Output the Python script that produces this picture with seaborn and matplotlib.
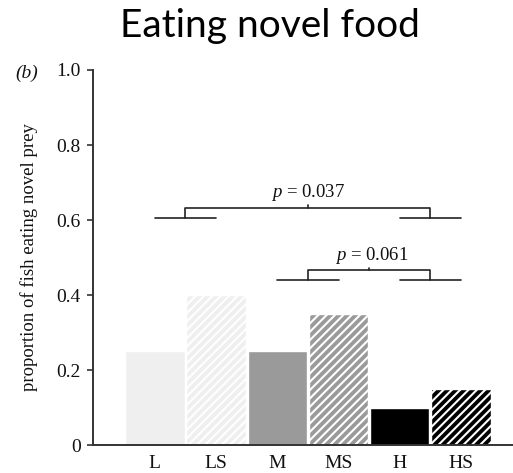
import matplotlib
matplotlib.use("Agg")
import matplotlib.pyplot as plt
import seaborn as sns
import pandas as pd

# ---- data ----
categories = ["L", "LS", "M", "MS", "H", "HS"]
proportions = [0.25, 0.40, 0.25, 0.35, 0.10, 0.15]
bar_colors = ["#efefef", "#efefef", "#9a9a9a", "#9a9a9a", "#000000", "#000000"]
hatched = [False, True, False, True, False, True]
y_ticks = [0, 0.2, 0.4, 0.6, 0.8, 1.0]
y_tick_labels = ["0", "0.2", "0.4", "0.6", "0.8", "1.0"]
p_labels = ["0.037", "0.061"]

sns.set_theme(style="white")
plt.rcParams["font.family"] = ["Liberation Serif", "DejaVu Serif"]
plt.rcParams["mathtext.fontset"] = "custom"
plt.rcParams["mathtext.it"] = "Liberation Serif:italic"
plt.rcParams["mathtext.rm"] = "Liberation Serif"
plt.rcParams["hatch.linewidth"] = 1.5
plt.rcParams["text.color"] = "#111111"
plt.rcParams["xtick.color"] = "#111111"
plt.rcParams["ytick.color"] = "#111111"
plt.rcParams["axes.labelcolor"] = "#111111"

df = pd.DataFrame({"group": categories, "prop": proportions})

fig = plt.figure(figsize=(5.13, 4.73), dpi=100)
ax = fig.add_axes([93 / 513, 28 / 473, 420 / 513, 375 / 473])

sns.barplot(data=df, x="group", y="prop", hue="group", palette=bar_colors,
            legend=False, width=0.97, edgecolor="white", linewidth=1.0,
            saturation=1, ax=ax)
for patch, h in zip(ax.patches, hatched):
    if h:
        patch.set_hatch("////")

ax.set_xlim(-1.01, 5.85)
ax.set_ylim(0, 1.0)
ax.set_yticks(y_ticks)
ax.set_yticklabels(y_tick_labels, fontsize=14)
ax.tick_params(axis="y", direction="out", length=4, width=1.2, color="#333333", pad=5, left=True)
ax.tick_params(axis="x", length=0, pad=7, labelsize=14)
ax.set_xlabel("")
ax.set_ylabel("proportion of fish eating novel prey", fontsize=13.5)
ax.yaxis.set_label_coords(-(93 - 38) / 420, 0.5)
for s in ["top", "right"]:
    ax.spines[s].set_visible(False)
for s in ["left", "bottom"]:
    ax.spines[s].set_color("#333333")
    ax.spines[s].set_linewidth(1.4)

lc = "#222222"
lw = 1.2

def bracket(x1, x2, x3, x4, ylow, ytop, label, tx, ty):
    ax.plot([x1, x2], [ylow, ylow], color=lc, lw=lw, clip_on=False)
    ax.plot([x3, x4], [ylow, ylow], color=lc, lw=lw, clip_on=False)
    m1 = (x1 + x2) / 2
    m2 = (x3 + x4) / 2
    ax.plot([m1, m1, m2, m2], [ylow, ytop, ytop, ylow], color=lc, lw=lw, clip_on=False)
    mc = (m1 + m2) / 2
    ax.plot([mc, mc], [ytop, ytop + 0.006], color=lc, lw=lw)
    ax.text(tx, ty, r"$p$ = " + label, ha="center", va="baseline", fontsize=13.5)

bracket(0, 1, 4, 5, 0.605, 0.633, p_labels[0], 2.5, 0.661)
bracket(2, 3, 4, 5, 0.44, 0.467, p_labels[1], 3.55, 0.493)

fig.text(27 / 513, 1 - 73 / 473, "(b)", style="italic", fontsize=14, ha="center", va="center")
fig.text(270 / 513, 1 - 37 / 473, "Eating novel food", fontsize=28, ha="center", va="baseline",
         family=["Lato", "DejaVu Sans"], color="black")

fig.savefig("out.png", dpi=100)
